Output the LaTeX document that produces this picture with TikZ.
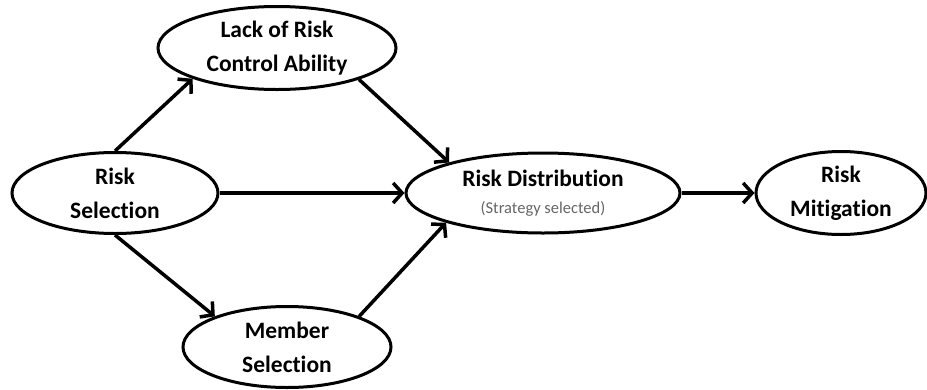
\documentclass[tikz,border=0pt]{standalone}
\usepackage{fontspec}
\setmainfont{Carlito}[Ligatures=NoCommon]
\usetikzlibrary{arrows.meta,shapes.geometric}
\begin{document}
\begin{tikzpicture}[x=1pt,y=-1pt,
  bubble/.style={ellipse, draw=black, line width=3pt, inner sep=0pt, align=center,
    font=\bfseries\fontsize{23.5}{34}\selectfont},
  flow/.style={line width=3.5pt, -{Straight Barb[length=9pt,width=20pt]}}]
  \useasboundingbox[fill=white] (0,0) rectangle (927,389);

  % nodes of the risk chain
  \node[bubble, minimum width=206pt, minimum height=81pt] (rsel) at (115,193) {Risk\\Selection};
  \node[bubble, minimum width=238pt, minimum height=83pt] (lack) at (277,48) {Lack of Risk\\Control Ability};
  \node[bubble, minimum width=208pt, minimum height=81pt] (memb) at (287,347) {Member\\Selection};
  \node[bubble, minimum width=274pt, minimum height=80pt, font=\bfseries\fontsize{23.5}{27}\selectfont] (dist) at (543,193)
    {Risk Distribution\\{\mdseries\fontsize{16.5}{18}\selectfont\color{black!60}(Strategy selected)}};
  \node[bubble, minimum width=170pt, minimum height=83pt] (miti) at (841,193) {Risk\\Mitigation};

  % connectors
  \draw[flow] (rsel.north) -- (lack.200);
  \draw[flow] (lack.339) -- (dist.162);
  \draw[flow] (rsel.east) -- (dist.west);
  \draw[flow] (rsel.south) -- (memb.157);
  \draw[flow] (memb.23) -- (dist.197);
  \draw[flow] (dist.east) -- (miti.west);
\end{tikzpicture}
\end{document}
